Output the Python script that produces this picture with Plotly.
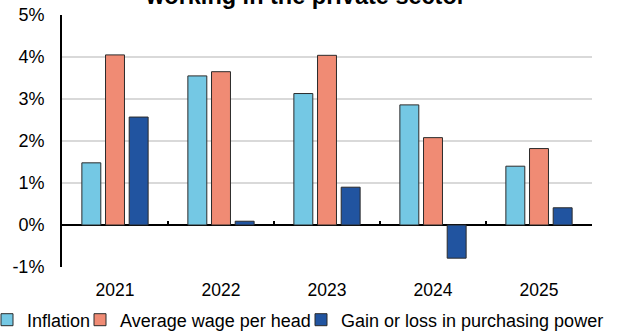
import plotly.graph_objects as go

years = ["2021", "2022", "2023", "2024", "2025"]
inflation = [1.48, 3.55, 3.13, 2.86, 1.40]
avg_wage = [4.05, 3.65, 4.04, 2.08, 1.82]
gain_loss = [2.57, 0.09, 0.90, -0.79, 0.41]
y_ticks = [-1, 0, 1, 2, 3, 4, 5]
y_tick_text = ["-1%", "0%", "1%", "2%", "3%", "4%", "5%"]

FONT = "Liberation Sans, Arial, sans-serif"
W, H = 624, 334
ML, MR, MT, MB = 62, 32, 15, 67
PLOT_W = W - ML - MR
PLOT_H = H - MT - MB


def px_x(px):
    return (px - ML) / PLOT_W


def px_y(py):
    return (H - MB - py) / PLOT_H


series = [
    ("Inflation", inflation, "#74C8E4", "legend", -13),
    ("Average wage per head", avg_wage, "#F08B74", "legend2", 80),
    ("Gain or loss in purchasing power", gain_loss, "#2154A0", "legend3", 301),
]

fig = go.Figure()
for name, vals, col, lg, _ in series:
    fig.add_trace(go.Bar(
        x=years, y=vals, name=name,
        marker=dict(color=col, line=dict(color="#2b2b2b", width=1)),
        legend=lg,
    ))

# helper trace for the tick marks on the zero line
fig.add_trace(go.Scatter(x=years, y=[None] * len(years), xaxis="x2",
                         showlegend=False, hoverinfo="skip"))

legends = {}
for name, vals, col, lg, left_px in series:
    legends[lg] = dict(orientation="h", xref="paper", yref="paper",
                       x=px_x(left_px), y=px_y(320),
                       xanchor="left", yanchor="middle",
                       font=dict(size=18), bgcolor="rgba(0,0,0,0)")

fig.update_layout(
    width=W, height=H,
    margin=dict(l=ML, r=MR, t=MT, b=MB, autoexpand=False),
    paper_bgcolor="white", plot_bgcolor="white",
    font=dict(family=FONT, size=17, color="black"),
    barmode="group", bargap=0.33, bargroupgap=0.2,
    xaxis=dict(type="category", showline=False, showgrid=False, zeroline=False,
               ticks="", ticklabelstandoff=10, tickfont=dict(size=17.5)),
    xaxis2=dict(type="category", matches="x", overlaying="x", anchor="free",
                position=1 / 6, showline=False, showgrid=False, zeroline=False,
                ticks="inside", ticklen=4, tickwidth=1.5, tickcolor="black",
                tickson="boundaries", showticklabels=False),
    yaxis=dict(range=[-1, 5], tickvals=y_ticks, ticktext=y_tick_text,
               showgrid=True, gridcolor="#d9d9d9", gridwidth=1.5,
               zeroline=True, zerolinecolor="black", zerolinewidth=1.5,
               showline=True, linecolor="black", linewidth=2,
               ticks="", ticklabelstandoff=12, tickfont=dict(size=18)),
    annotations=[dict(text="<b>working in the private sector</b>",
                      xref="paper", yref="paper", x=px_x(305),
                      y=1 + MT / PLOT_H,
                      xanchor="center", yanchor="bottom", yshift=-11,
                      showarrow=False, font=dict(size=23.5, family=FONT))],
    **legends,
)

fig.write_html("out.html")
